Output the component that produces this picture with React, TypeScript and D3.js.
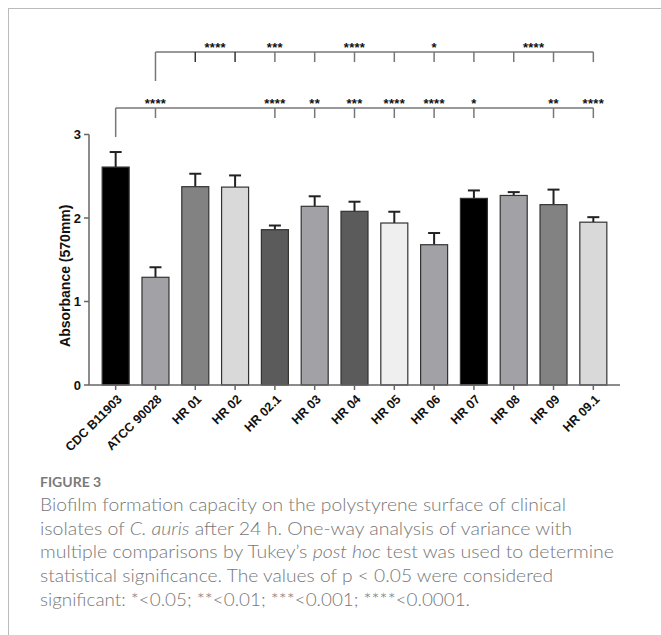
import React from "react";
import * as d3 from "d3";

const categories = ["CDC B11903", "ATCC 90028", "HR 01", "HR 02", "HR 02.1", "HR 03", "HR 04", "HR 05", "HR 06", "HR 07", "HR 08", "HR 09", "HR 09.1"];
const means = [2.61, 1.29, 2.375, 2.37, 1.86, 2.14, 2.08, 1.94, 1.68, 2.235, 2.27, 2.16, 1.95];
const errors = [0.18, 0.12, 0.155, 0.14, 0.05, 0.12, 0.115, 0.135, 0.14, 0.095, 0.04, 0.18, 0.06];
const fills = ["#000000", "#a2a2a6", "#828282", "#d9d9d9", "#5b5b5b", "#a2a2a6", "#5b5b5b", "#efefef", "#a2a2a6", "#000000", "#a2a2a6", "#828282", "#d9d9d9"];
const yTicks = [0, 1, 2, 3];

// lower bracket: CDC B11903 vs others
const lowerRef = "CDC B11903";
const lowerTicks = ["ATCC 90028", "HR 02.1", "HR 03", "HR 04", "HR 05", "HR 06", "HR 07", "HR 09", "HR 09.1"];
const lowerStars = ["****", "****", "**", "***", "****", "****", "*", "**", "****"];
// upper bracket: ATCC 90028 vs others
const upperRef = "ATCC 90028";
const upperTicks = ["HR 01", "HR 02", "HR 02.1", "HR 03", "HR 04", "HR 05", "HR 06", "HR 07", "HR 08", "HR 09", "HR 09.1"];
const upperStarPos = [2.5, 4, 6, 8, 10.5];
const upperStars = ["****", "***", "****", "*", "****"];

const captionTitle = "FIGURE 3";
const captionLines = [
  ["Biofilm formation capacity on the polystyrene surface of clinical"],
  ["isolates of ", "C. auris", " after 24 h. One-way analysis of variance with"],
  ["multiple comparisons by Tukey\u2019s ", "post hoc", " test was used to determine"],
  ["statistical significance. The values of p < 0.05 were considered"],
  ["significant: *<0.05; **<0.01; ***<0.001; ****<0.0001."],
];
const captionWidths = [526, 532, 574, 513, 430];

export default function App() {
  const W = 661, H = 635;
  const x0 = 89, x1 = 620, y0 = 385;
  const x = d3.scalePoint<string>().domain(categories).range([x0, x1]).padding(0.67);
  const step = x.step();
  const barW = 27;
  const y = d3.scaleLinear().domain([0, 3]).range([y0, 134.5]);
  const chartFont = "'Liberation Sans', Arial, sans-serif";
  const capFont = "Lato, 'Open Sans', sans-serif";
  const axisColor = "#666";
  const brColor = "#777";
  const posAt = (i: number) => (x(categories[0]) as number) + i * step;

  const lowerY = 108, upperY = 52;
  const starSize = 13;

  return (
    <svg width={W} height={H} style={{ position: "absolute", left: 0, top: 0, background: "#fff" }}>
      {/* card border */}
      <line x1={8} x2={W} y1={8.5} y2={8.5} stroke="#bbb" strokeWidth={1} />
      <line x1={8.5} x2={8.5} y1={8} y2={H} stroke="#bbb" strokeWidth={1} />

      {/* bars */}
      {categories.map((c, i) => {
        const cx = x(c) as number;
        const top = y(means[i]);
        const et = y(means[i] + errors[i]);
        return (
          <g key={c}>
            <line x1={cx} x2={cx} y1={top} y2={et} stroke="#222" strokeWidth={2} />
            <line x1={cx - 6} x2={cx + 6} y1={et} y2={et} stroke="#222" strokeWidth={2} />
            <rect x={cx - barW / 2} y={top} width={barW} height={y0 - top} fill={fills[i]} stroke="#333" strokeWidth={1.2} />
          </g>
        );
      })}

      {/* y axis */}
      <line x1={x0} x2={x0} y1={y(3)} y2={y0} stroke={axisColor} strokeWidth={1.5} />
      {yTicks.map((t) => (
        <g key={t}>
          <line x1={x0 - 5} x2={x0} y1={y(t)} y2={y(t)} stroke={axisColor} strokeWidth={1.5} />
          <text x={x0 - 8} y={y(t)} dy="0.35em" textAnchor="end" fontFamily={chartFont} fontWeight="bold" fontSize={13} fill="#111">{t}</text>
        </g>
      ))}
      <text transform={`translate(70,${(y(3) + y0) / 2 + 16}) rotate(-90)`} textAnchor="middle" fontFamily={chartFont} fontWeight="bold" fontSize={14} fill="#111">Absorbance (570mm)</text>

      {/* x axis */}
      <line x1={x0} x2={x1} y1={y0} y2={y0} stroke={axisColor} strokeWidth={1.5} />
      {categories.map((c) => {
        const cx = x(c) as number;
        return (
          <g key={c}>
            <line x1={cx} x2={cx} y1={y0} y2={y0 + 5} stroke={axisColor} strokeWidth={1.5} />
            <text transform={`translate(${cx + 7},${y0 + 15}) rotate(-45)`} textAnchor="end" fontFamily={chartFont} fontWeight="bold" fontSize={12.5} fill="#111">{c}</text>
          </g>
        );
      })}

      {/* lower bracket */}
      <line x1={x(lowerRef) as number} x2={x(categories[categories.length - 1]) as number} y1={lowerY} y2={lowerY} stroke={brColor} strokeWidth={1.5} />
      <line x1={x(lowerRef) as number} x2={x(lowerRef) as number} y1={lowerY} y2={137} stroke={brColor} strokeWidth={1.5} />
      {lowerTicks.map((c, i) => {
        const cx = x(c) as number;
        return (
          <g key={c}>
            <line x1={cx} x2={cx} y1={lowerY} y2={lowerY + 10} stroke={brColor} strokeWidth={1.5} />
            <text x={cx} y={lowerY} textAnchor="middle" fontFamily={chartFont} fontWeight="bold" fontSize={starSize} letterSpacing={0.3} fill="#111">{lowerStars[i]}</text>
          </g>
        );
      })}

      {/* upper bracket */}
      <line x1={x(upperRef) as number} x2={x(categories[categories.length - 1]) as number} y1={upperY} y2={upperY} stroke={brColor} strokeWidth={1.5} />
      <line x1={x(upperRef) as number} x2={x(upperRef) as number} y1={upperY} y2={81} stroke={brColor} strokeWidth={1.5} />
      {upperTicks.map((c, i) => {
        const cx = x(c) as number;
        return <line key={c} x1={cx} x2={cx} y1={upperY} y2={upperY + 10} stroke={i < 2 ? "#333" : brColor} strokeWidth={1.5} />;
      })}
      {upperStars.map((s, i) => (
        <text key={i} x={posAt(upperStarPos[i])} y={upperY} textAnchor="middle" fontFamily={chartFont} fontWeight="bold" fontSize={starSize} letterSpacing={0.3} fill="#111">{s}</text>
      ))}

      {/* caption */}
      <text x={40} y={487} fontFamily={capFont} fontWeight={700} fontSize={14} fill="#7a7a7a">{captionTitle}</text>
      {captionLines.map((parts, li) => (
        <text key={li} x={40} y={511 + li * 23.7} fontFamily={capFont} fontWeight={300} fontSize={17} fill="#777" textLength={captionWidths[li]} lengthAdjust="spacingAndGlyphs">
          {parts.map((p, pi) => (
            <tspan key={pi} fontStyle={pi === 1 ? "italic" : "normal"}>{p}</tspan>
          ))}
        </text>
      ))}
    </svg>
  );
}
